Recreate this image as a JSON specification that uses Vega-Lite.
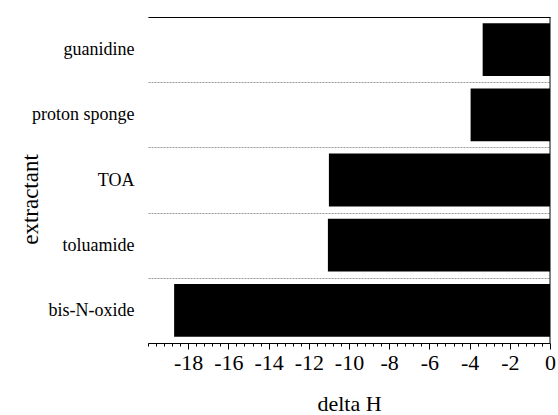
{
  "$schema": "https://vega.github.io/schema/vega-lite/v6.json",
  "width": 402,
  "height": 326,
  "autosize": "none",
  "padding": {"left": 148, "top": 17, "right": 8, "bottom": 72},
  "config": {"view": {"stroke": null}, "font": "Liberation Serif"},
  "data": {
    "values": [
      {"extractant": "guanidine", "deltaH": -3.35},
      {"extractant": "proton sponge", "deltaH": -3.95},
      {"extractant": "TOA", "deltaH": -11.0},
      {"extractant": "toluamide", "deltaH": -11.05},
      {"extractant": "bis-N-oxide", "deltaH": -18.7}
    ]
  },
  "layer": [
    {
      "mark": {"type": "bar", "color": "black", "height": {"band": 0.81}},
      "encoding": {
        "y": {
          "field": "extractant",
          "type": "nominal",
          "sort": null,
          "scale": {"paddingInner": 0, "paddingOuter": 0},
          "axis": {
            "title": "extractant",
            "titleFont": "Liberation Serif",
            "titleFontSize": 23,
            "titleFontWeight": "normal",
            "titleColor": "black",
            "titleAngle": -90,
            "titleAlign": "center",
            "titleBaseline": "alphabetic",
            "titleX": -111,
            "titleY": 182,
            "labelFont": "Liberation Serif",
            "labelFontSize": 18,
            "labelColor": "black",
            "labelPadding": 14,
            "ticks": false,
            "domain": false,
            "grid": true,
            "tickBand": "extent",
            "gridColor": "#999999",
            "gridDash": [2, 1],
            "gridWidth": 1
          }
        },
        "x": {
          "field": "deltaH",
          "type": "quantitative",
          "scale": {"domain": [-20, 0], "nice": false},
          "axis": {
            "title": "delta H",
            "titleFont": "Liberation Serif",
            "titleFontSize": 22,
            "titleFontWeight": "normal",
            "titleColor": "black",
            "titleBaseline": "alphabetic",
            "titleY": 67,
            "values": [-20,-19.6,-19.2,-18.8,-18.4,-18,-17.6,-17.2,-16.8,-16.4,-16,-15.6,-15.2,-14.8,-14.4,-14,-13.6,-13.2,-12.8,-12.4,-12,-11.6,-11.2,-10.8,-10.4,-10,-9.6,-9.2,-8.8,-8.4,-8,-7.6,-7.2,-6.8,-6.4,-6,-5.6,-5.2,-4.8,-4.4,-4,-3.6,-3.2,-2.8,-2.4,-2,-1.6,-1.2,-0.8,-0.4,0],
            "labelExpr": "abs(datum.value - round(datum.value)) < 0.01 && round(datum.value) % 2 == 0 && datum.value > -19 ? round(datum.value) + '' : ''",
            "labelOverlap": false,
            "labelFlush": false,
            "labelBound": false,
            "labelFont": "Liberation Serif",
            "labelFontSize": 22,
            "labelColor": "black",
            "labelPadding": 3,
            "tickColor": "black",
            "tickSize": {"condition": {"test": "abs(datum.value - round(datum.value)) < 0.01 && round(datum.value) % 2 == 0 && datum.value > -19", "value": 6}, "value": 3},
            "domainColor": "black",
            "grid": false
          }
        }
      }
    },
    {
      "data": {"values": [{"zero": 0}]},
      "mark": {"type": "rule", "color": "black", "strokeWidth": 1},
      "encoding": {
        "x": {
          "field": "zero",
          "type": "quantitative",
          "axis": {
            "orient": "top",
            "labels": false,
            "ticks": false,
            "domain": true,
            "domainColor": "black",
            "domainWidth": 1,
            "title": null,
            "grid": false
          }
        }
      }
    }
  ],
  "resolve": {"axis": {"x": "independent"}}
}
